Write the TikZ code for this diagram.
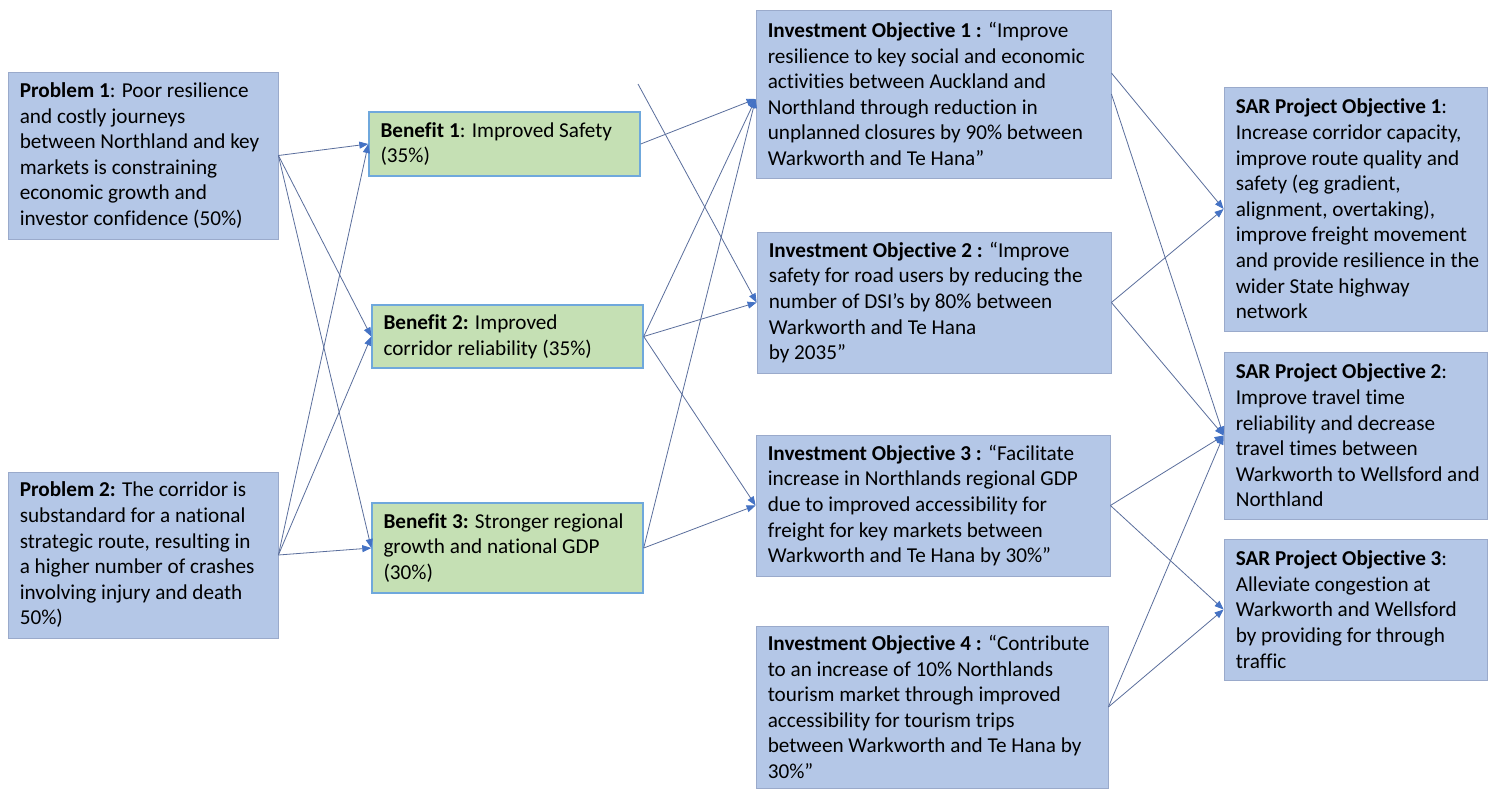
\documentclass[tikz,border=0pt]{standalone}
\usepackage{fontspec}
\setmainfont{Carlito}[Ligatures=NoCommon]
\usetikzlibrary{arrows.meta}

\definecolor{boxblue}{HTML}{B4C7E7}
\definecolor{boxedge}{HTML}{9AAACB}
\definecolor{boxgreen}{HTML}{C5E0B4}
\definecolor{greenedge}{HTML}{6FA8DC}
\definecolor{linkcol}{HTML}{5A6E9C}
\definecolor{tipcol}{HTML}{4472C4}

% a filled box with corners (x1,y1)-(x2,y2) and its left-aligned text
\newcommand{\mkpanel}[7]{%
  \node[#1, minimum width={(#5-#3)*1pt}, minimum height={(#6-#4)*1pt}]
    (#2) at ({(#3+#5)/2},{(#4+#6)/2}) {};
  \node[txt, anchor=west] (#2t) at ([xshift=12pt]#2.west) {#7};}

\begin{document}
\begin{tikzpicture}[x=1pt, y=-1pt,
  bluebox/.style={rectangle, fill=boxblue, draw=boxedge, line width=0.8pt, inner sep=0pt},
  greenbox/.style={rectangle, fill=boxgreen, draw=greenedge, line width=1.4pt, inner sep=0pt},
  txt/.style={inner sep=0pt, align=left, font=\fontsize{21.2}{25.6}\selectfont},
  link/.style={draw=linkcol, line width=0.8pt, -{Triangle[length=9pt,width=7pt,color=tipcol]}}]

\useasboundingbox (0,0) rectangle (1488,789);
\fill[white] (0,0) rectangle (1488,789);

% problems
\mkpanel{bluebox}{P1}{8}{72}{278}{239}{\textbf{Problem 1}: Poor resilience\\and costly journeys\\between Northland and key\\markets is constraining\\economic growth and\\investor confidence (50\%)}
\mkpanel{bluebox}{P2}{8}{472}{278}{638}{\textbf{Problem 2:} The corridor is\\substandard for a national\\strategic route, resulting in\\a higher number of crashes\\involving injury and death\\50\%)}

% benefits
\mkpanel{greenbox}{B1}{369}{112}{640}{176}{\textbf{Benefit 1}: Improved Safety\\(35\%)}
\mkpanel{greenbox}{B2}{372}{305}{643}{368}{\textbf{Benefit 2:} Improved\\corridor reliability (35\%)}
\mkpanel{greenbox}{B3}{372}{503}{643}{593}{\textbf{Benefit 3:} Stronger regional\\growth and national GDP\\(30\%)}

% investment objectives
\mkpanel{bluebox}{IO1}{756}{10}{1111}{178}{\textbf{Investment Objective 1 :} “Improve\\resilience to key social and economic\\activities between Auckland and\\Northland through reduction in\\unplanned closures by 90\% between\\Warkworth and Te Hana”}
\mkpanel{bluebox}{IO2}{757}{232}{1111}{373}{\textbf{Investment Objective 2 :} “Improve\\safety for road users by reducing the\\number of DSI’s by 80\% between\\Warkworth and Te Hana\\by 2035”}
\mkpanel{bluebox}{IO3}{756}{435}{1110}{576}{\textbf{Investment Objective 3 :} “Facilitate\\increase in Northlands regional GDP\\due to improved accessibility for\\freight for key markets between\\Warkworth and Te Hana by 30\%”}
\mkpanel{bluebox}{IO4}{756}{626}{1108}{788}{\textbf{Investment Objective 4 :} “Contribute\\to an increase of 10\% Northlands\\tourism market through improved\\accessibility for tourism trips\\between Warkworth and Te Hana by\\30\%”}

% project objectives
\mkpanel{bluebox}{S1}{1224}{87}{1487}{331}{\textbf{SAR Project Objective 1}:\\Increase corridor capacity,\\improve route quality and\\safety (eg gradient,\\alignment, overtaking),\\improve freight movement\\and provide resilience in the\\wider State highway\\network}
\mkpanel{bluebox}{S2}{1224}{352}{1487}{519}{\textbf{SAR Project Objective 2}:\\Improve travel time\\reliability and decrease\\travel times between\\Warkworth to Wellsford and\\Northland}
\mkpanel{bluebox}{S3}{1224}{539}{1487}{680}{\textbf{SAR Project Objective 3}:\\Alleviate congestion at\\Warkworth and Wellsford\\by providing for through\\traffic}

% problems -> benefits
\draw[link] (P1.east) -- (B1.west);
\draw[link] (P1.east) -- (B2.west);
\draw[link] (P1.east) -- (B3.west);
\draw[link] (P2.east) -- (B1.west);
\draw[link] (P2.east) -- (B2.west);
\draw[link] (P2.east) -- (B3.west);

% benefits -> investment objectives
\coordinate (loose) at (638,84);
\draw[link] (B1.east) -- ([yshift=-5pt]IO1.west);
\draw[link] (B2.east) -- ([yshift=-5pt]IO1.west);
\draw[link] (B3.east) -- ([yshift=-5pt]IO1.west);
\draw[link] (loose) -- (IO2.west);
\draw[link] (B2.east) -- (IO2.west);
\draw[link] (B2.east) -- (IO3.west);
\draw[link] (B3.east) -- (IO3.west);

% investment objectives -> project objectives
\draw[link] ([yshift=21pt]IO1.east) -- (S1.west);
\draw[link] (IO1.east) -- (S2.west);
\draw[link] (IO2.east) -- (S1.west);
\draw[link] (IO2.east) -- (S2.west);
\draw[link] (IO3.east) -- (S2.west);
\draw[link] (IO3.east) -- (S3.west);
\draw[link] (IO4.east) -- (S2.west);
\draw[link] (IO4.east) -- (S3.west);
\end{tikzpicture}
\end{document}
